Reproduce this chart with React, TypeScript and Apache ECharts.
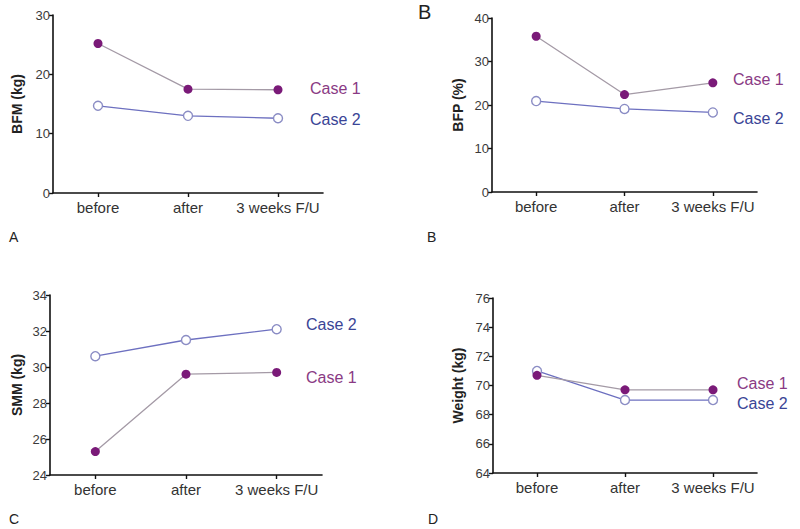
import React, { useEffect, useRef } from "react";
import * as echarts from "echarts";

const categories = ["before", "after", "3 weeks F/U"];

const bfmCase1 = [25.2, 17.5, 17.4];
const bfmCase2 = [14.7, 13.0, 12.6];
const bfpCase1 = [35.8, 22.4, 25.1];
const bfpCase2 = [20.9, 19.1, 18.3];
const smmCase1 = [25.3, 29.6, 29.7];
const smmCase2 = [30.6, 31.5, 32.1];
const weightCase1 = [70.7, 69.7, 69.7];
const weightCase2 = [71.0, 69.0, 69.0];

const yNames = ["BFM (kg)", "BFP (%)", "SMM (kg)", "Weight (kg)"];
const yMins = [0, 0, 24, 64];
const yMaxs = [30, 40, 34, 76];
const yIntervals = [10, 10, 2, 2];
const panelLetters = ["A", "B", "C", "D"];
const case1Label = "Case 1";
const case2Label = "Case 2";

const C1_MARK = "#7a1a78";
const C1_LINE = "#a49aa6";
const C2_MARK = "#8a8cc4";
const C2_LINE = "#6d70c0";
const C1_TEXT = "#8a3a84";
const C2_TEXT = "#3a4496";
const FONT = "'Liberation Sans', Arial, Helvetica, sans-serif";

export default function App() {
  const ref = useRef<HTMLDivElement>(null);
  useEffect(() => {
    document.body.style.margin = "0";
    const chart = echarts.init(ref.current!, null, { renderer: "svg" });
    const grids = [
      { left: 53, top: 15, width: 270, height: 178 },
      { left: 492, top: 18, width: 265, height: 174 },
      { left: 50, top: 295, width: 272, height: 180 },
      { left: 493, top: 298, width: 264, height: 175 },
    ];
    const nameGaps = [29, 27, 26, 28];
    const data1 = [bfmCase1, bfpCase1, smmCase1, weightCase1];
    const data2 = [bfmCase2, bfpCase2, smmCase2, weightCase2];
    const axisLine = { show: true, lineStyle: { color: "#111", width: 1.6 } };
    const xAxis = grids.map((_, i) => ({
      type: "category",
      gridIndex: i,
      data: categories,
      boundaryGap: true,
      axisLine,
      axisTick: { show: true, alignWithLabel: true, interval: 0, length: 4, lineStyle: { color: "#111", width: 1.4 } },
      axisLabel: { color: "#333", fontSize: 15, fontFamily: FONT, margin: 7, interval: 0, hideOverlap: false },
    }));
    const yAxis = grids.map((_, i) => ({
      type: "value",
      gridIndex: i,
      min: yMins[i],
      max: yMaxs[i],
      interval: yIntervals[i],
      name: yNames[i],
      nameLocation: "middle",
      nameRotate: 90,
      nameGap: nameGaps[i],
      nameTextStyle: { color: "#222", fontSize: 14, fontWeight: "bold", fontFamily: FONT },
      axisLine,
      axisTick: { show: true, length: 4, lineStyle: { color: "#111", width: 1.4 } },
      axisLabel: { color: "#3a3a3a", fontSize: 13, fontFamily: FONT, margin: 3 },
      splitLine: { show: false },
    }));
    const series: any[] = [];
    grids.forEach((_, i) => {
      series.push({
        type: "line",
        name: case1Label,
        xAxisIndex: i,
        yAxisIndex: i,
        data: data1[i],
        symbol: "circle",
        symbolSize: 9,
        itemStyle: { color: C1_MARK },
        lineStyle: { color: C1_LINE, width: 1.3 },
        z: 3,
      });
      series.push({
        type: "line",
        name: case2Label,
        xAxisIndex: i,
        yAxisIndex: i,
        data: data2[i],
        symbol: "circle",
        symbolSize: 9,
        itemStyle: { color: "#fff", borderColor: C2_MARK, borderWidth: 1.4 },
        lineStyle: { color: C2_LINE, width: 1.3 },
        z: 2,
      });
    });
    const caseText = (x: number, y: number, text: string, fill: string) => ({
      type: "text",
      x,
      y,
      style: { text, fill, fontSize: 16, fontFamily: FONT, verticalAlign: "middle", align: "left" },
    });
    const letter = (x: number, y: number, text: string, size: number) => ({
      type: "text",
      x,
      y,
      style: { text, fill: "#222", fontSize: size, fontFamily: FONT, verticalAlign: "middle", align: "left" },
    });
    const graphic = [
      caseText(310, 88, case1Label, C1_TEXT),
      caseText(310, 119, case2Label, C2_TEXT),
      caseText(733, 79, case1Label, C1_TEXT),
      caseText(733, 118, case2Label, C2_TEXT),
      caseText(306, 324, case2Label, C2_TEXT),
      caseText(306, 377, case1Label, C1_TEXT),
      caseText(737, 383, case1Label, C1_TEXT),
      caseText(737, 403, case2Label, C2_TEXT),
      letter(9, 237, panelLetters[0], 14),
      letter(427, 237, panelLetters[1], 14),
      letter(418, 12, panelLetters[1], 20),
      letter(9, 519, panelLetters[2], 14),
      letter(428, 519, panelLetters[3], 14),
    ];
    chart.setOption({
      animation: false,
      backgroundColor: "#fff",
      grid: grids,
      xAxis,
      yAxis,
      series,
      graphic,
    });
    return () => chart.dispose();
  }, []);
  return <div ref={ref} style={{ width: 800, height: 529 }} />;
}
